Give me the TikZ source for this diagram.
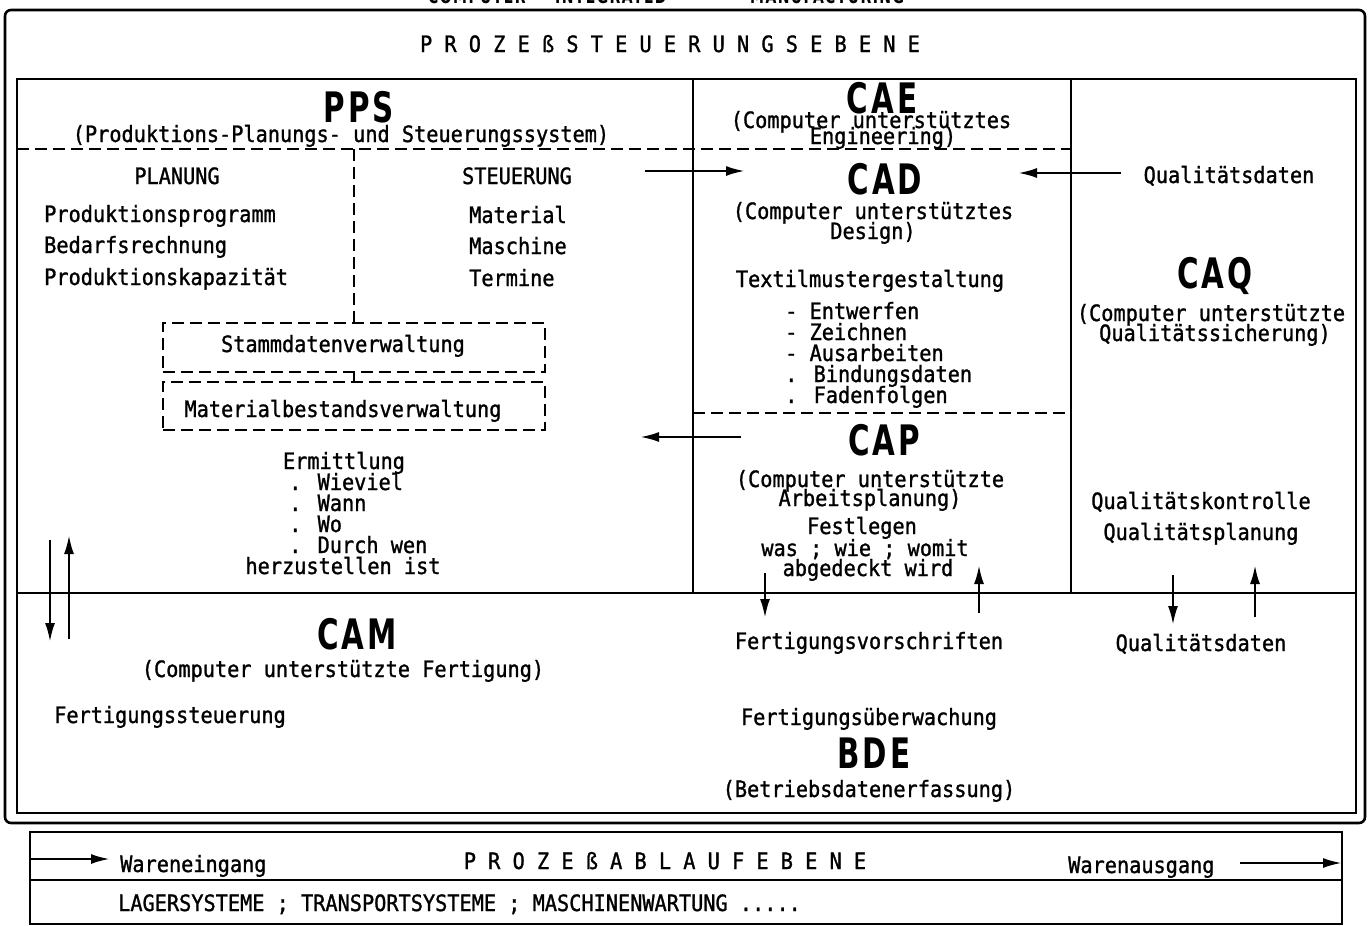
\documentclass[tikz,border=0pt]{standalone}
\usepackage{fontspec}
\setmainfont{DejaVu Sans Mono}[FakeStretch=0.9,FakeBold=1.2]
\newfontfamily\bigb{DejaVu Sans}[FakeStretch=0.7,LetterSpace=7]
\usetikzlibrary{arrows.meta}
\tikzset{
  t/.style={font=\fontsize{22.5}{22}\selectfont, inner sep=0pt, anchor=base},
  tl/.style={t, anchor=base west},
  big/.style={font=\bigb\bfseries\fontsize{42}{42}\selectfont, inner sep=0pt, anchor=base},
  topfrag/.style={font=\bigb\bfseries\fontsize{20}{20}\selectfont, inner sep=0pt, anchor=base west},
  frame/.style={line width=2.6pt},
  dsh/.style={line width=2pt, dash pattern=on 12pt off 6pt},
  dbox/.style={dsh, draw, inner sep=0pt},
  arr/.style={line width=2.5pt, -{Latex[length=19pt,width=10pt]}}
}
\begin{document}
\begin{tikzpicture}[x=1pt,y=-1pt]
\useasboundingbox (0,0) rectangle (1368,926);
% cut-off heading at the top edge
\node[topfrag] (h1) at (428,3) {COMPUTER};
\node[topfrag] (h2) at (555,3) {INTEGRATED};
\node[topfrag] (h3) at (750,3) {MANUFACTURING};
% frames
\draw[frame, rounded corners=6pt] (5,10) rectangle (1365,823);
\draw[frame] (17,79) rectangle (1356,813);
\draw[frame] (17,593) -- (1356,593);
\draw[frame] (693,79) -- (693,593);
\draw[frame] (1071,79) -- (1071,593);
\draw[dsh] (17,149) -- (1071,149);
\draw[dsh] (693,413) -- (1071,413);
% PPS dashed boxes
\node[dbox, minimum width=382pt, minimum height=49pt] (sd) at (354,347.5) {};
\node[dbox, minimum width=382pt, minimum height=48pt] (mb) at (354,406) {};
\coordinate (pv) at (354,149);
\draw[dsh] (pv) -- (sd.north);
\draw[line width=2pt] (sd.south) -- (mb.north);
% bottom box
\draw[frame] (30,832) rectangle (1342,924);
\draw[frame] (30,880) -- (1342,880);
% texts
\node[t] (title) at (670,52) {P R O Z E ß S T E U E R U N G S E B E N E};
\node[big] (pps) at (359,122) {PPS};
\node[t] (ppsl) at (341,142) {(Produktions-Planungs- und Steuerungssystem)};
\node[t] (plan) at (177,184) {PLANUNG};
\node[t] (steu) at (517,184) {STEUERUNG};
\node[tl] (p1) at (44,222) {Produktionsprogramm};
\node[tl] (p2) at (44,253) {Bedarfsrechnung};
\node[tl] (p3) at (44,285) {Produktionskapazität};
\node[tl] (s1) at (469,223) {Material};
\node[tl] (s2) at (469,254) {Maschine};
\node[tl] (s3) at (469,286) {Termine};
\node[t] (sdl) at (343,352) {Stammdatenverwaltung};
\node[t] (mbl) at (343,417) {Materialbestandsverwaltung};
\node[t] (erm) at (344,469) {Ermittlung};
\node[tl] (e1) at (289,490) {. Wieviel};
\node[tl] (e2) at (289,511) {. Wann};
\node[tl] (e3) at (289,532) {. Wo};
\node[tl] (e4) at (289,553) {. Durch wen};
\node[t] (e5) at (343,574) {herzustellen ist};
\node[big] (cae) at (882,113) {CAE};
\node[t] (cael1) at (871,128) {(Computer unterstütztes};
\node[t] (cael2) at (883,144) {Engineering)};
\node[big] (cad) at (885,194) {CAD};
\node[t] (cadl1) at (873,219) {(Computer unterstütztes};
\node[t] (cadl2) at (873,239) {Design)};
\node[t] (tex) at (870,287) {Textilmustergestaltung};
\node[tl] (d1) at (785,319) {- Entwerfen};
\node[tl] (d2) at (785,340) {- Zeichnen};
\node[tl] (d3) at (785,361) {- Ausarbeiten};
\node[tl] (d4) at (785,382) {. Bindungsdaten};
\node[tl] (d5) at (785,403) {. Fadenfolgen};
\node[big] (cap) at (884,455) {CAP};
\node[t] (capl1) at (870,487) {(Computer unterstützte};
\node[t] (capl2) at (870,506) {Arbeitsplanung)};
\node[t] (fest) at (862,534) {Festlegen};
\node[t] (was) at (865,556) {was ; wie ; womit};
\node[t] (abg) at (868,576) {abgedeckt wird};
\node[t] (qd1) at (1229,183) {Qualitätsdaten};
\node[big] (caq) at (1215,288) {CAQ};
\node[t] (caql1) at (1211,321) {(Computer unterstützte};
\node[t] (caql2) at (1215,341) {Qualitätssicherung)};
\node[t] (qk) at (1201,509) {Qualitätskontrolle};
\node[t] (qp) at (1201,540) {Qualitätsplanung};
\node[big] (cam) at (357,649) {CAM};
\node[t] (caml) at (343,677) {(Computer unterstützte Fertigung)};
\node[tl] (fs) at (54,723) {Fertigungssteuerung};
\node[t] (fv) at (869,649) {Fertigungsvorschriften};
\node[t] (qd2) at (1201,651) {Qualitätsdaten};
\node[t] (fu) at (869,725) {Fertigungsüberwachung};
\node[big] (bde) at (874,768) {BDE};
\node[t] (bdel) at (869,797) {(Betriebsdatenerfassung)};
\node[tl] (we) at (120,872) {Wareneingang};
\node[t] (pa) at (665,869) {P R O Z E ß A B L A U F E B E N E};
\node[tl] (wa) at (1068,873) {Warenausgang};
\node[tl] (lag) at (118,911) {LAGERSYSTEME ; TRANSPORTSYSTEME ; MASCHINENWARTUNG .....};
% arrows
\coordinate (a1s) at (645,171); \coordinate (a1e) at (745,171);
\coordinate (a2s) at (1121,173); \coordinate (a2e) at (1018,173);
\coordinate (a3s) at (741,437); \coordinate (a3e) at (640,437);
\coordinate (l1s) at (50,540); \coordinate (l1e) at (50,642);
\coordinate (l2s) at (69,639); \coordinate (l2e) at (69,535);
\coordinate (f1s) at (765,573); \coordinate (f1e) at (765,618);
\coordinate (f2s) at (979,613); \coordinate (f2e) at (979,565);
\coordinate (q1s) at (1173,575); \coordinate (q1e) at (1173,625);
\coordinate (q2s) at (1255,617); \coordinate (q2e) at (1255,565);
\coordinate (w1s) at (30,859); \coordinate (w1e) at (110,859);
\coordinate (w2s) at (1240,863); \coordinate (w2e) at (1342,863);
\foreach \s/\e in {a1s/a1e,a2s/a2e,a3s/a3e,l1s/l1e,l2s/l2e,f1s/f1e,f2s/f2e,q1s/q1e,q2s/q2e,w1s/w1e,w2s/w2e}
  \draw[arr] (\s) -- (\e);
\end{tikzpicture}
\end{document}
